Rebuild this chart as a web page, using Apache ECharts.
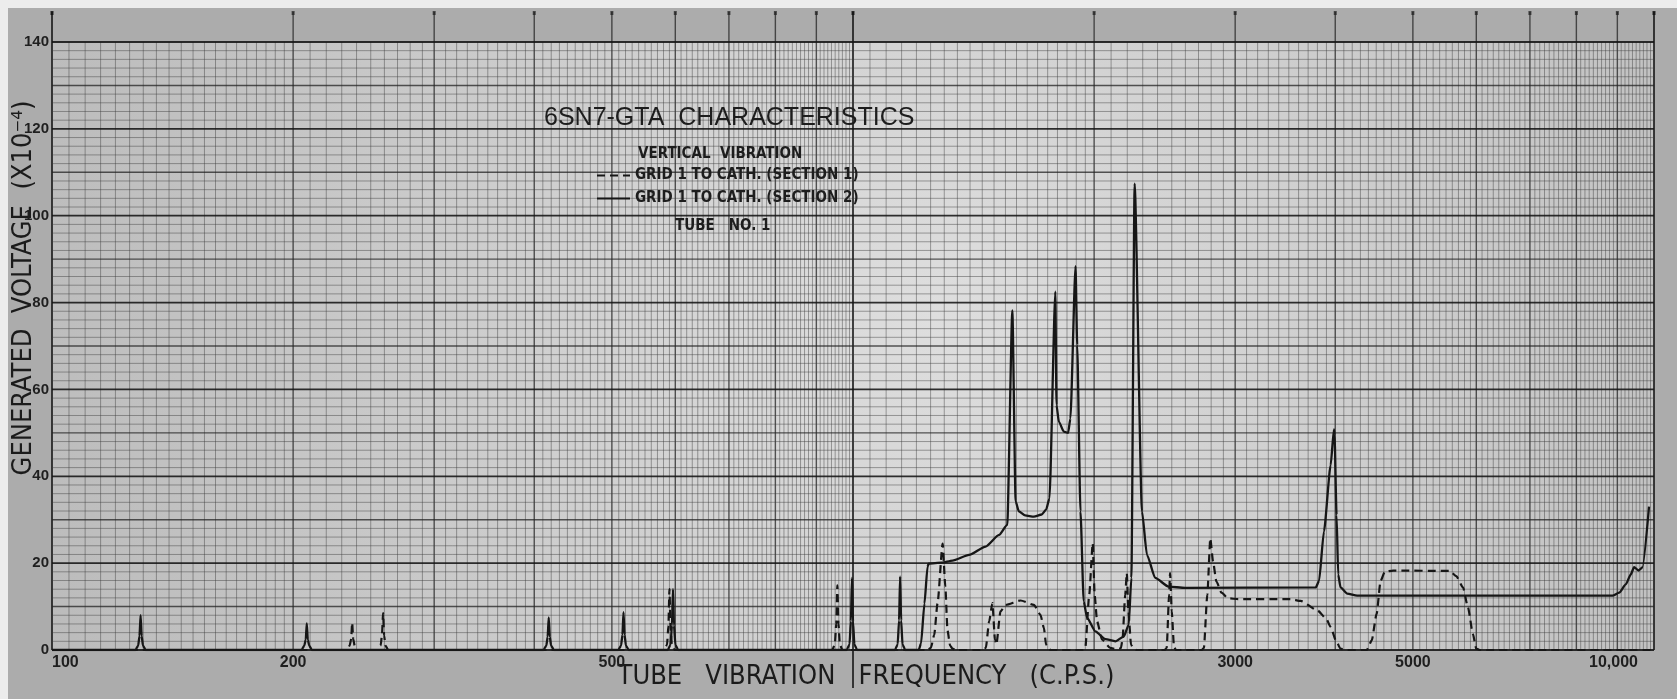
<!DOCTYPE html>
<html>
<head>
<meta charset="utf-8">
<script src="https://cdn.jsdelivr.net/npm/echarts@6/dist/echarts.min.js"></script>
<style>
  html, body { margin: 0; padding: 0; background: #ffffff; }
  #chart { width: 1677px; height: 699px; }
</style>
</head>
<body>
<div id="chart"></div>
<script>
// Grid 1 to cathode, section 1 (dashed curve): frequency (c.p.s.) and generated voltage (x10^-4)
const sec1Freq = [
  100,
  233.4, 235.3, 236.3, 237, 237.7, 238.7, 240.6,
  255.1, 257.2, 258.2, 259, 259.8, 260.8, 262.9,
  581, 585.9, 588.2, 590, 591.8, 594.1, 599,
  942, 949, 953, 956, 959, 963, 970,
  1240, 1251, 1263, 1275, 1294, 1304, 1312, 1322, 1331, 1345,
  1455, 1465, 1479, 1493, 1504, 1510, 1528, 1551, 1619, 1682, 1714, 1731, 1742, 1755, 1765,
  1940, 1950, 1972, 1992, 2003, 2017, 2046, 2095, 2130,
  2160, 2170, 2187, 2197, 2207, 2224, 2240, 2260,
  2450, 2464, 2481, 2488, 2500, 2516, 2530,
  2725, 2742, 2769, 2793, 2815, 2842, 2884, 2940, 3026, 3519, 3621, 3802, 3898, 3947, 4008, 4061, 4140,
  4379, 4442, 4505, 4557, 4612, 4723, 5557, 5664, 5775, 5858, 5942, 5999, 6060, 9900
];
const sec1Volt = [
  0,
  0, 1, 2.5, 6.3, 2.5, 1, 0,
  0, 1, 3.4, 8.5, 3.4, 1, 0,
  0, 1.2, 5.6, 14, 5.6, 1.2, 0,
  0, 1.2, 6, 14.9, 6, 1.2, 0,
  0, 0.5, 3.5, 10.7, 24.5, 14.6, 4.6, 1, 0.3, 0,
  0, 0.5, 6.6, 10.8, 2.4, 1.3, 8.9, 10.4, 11.4, 10.4, 8.1, 5.1, 1.2, 0.3, 0,
  0, 0.5, 12.7, 24.6, 12.7, 6.6, 2.4, 0.5, 0.2,
  0.4, 2.4, 12.7, 17.7, 8.9, 1.2, 0.3, 0,
  0, 0.5, 12.7, 17.7, 8.9, 0.8, 0,
  0, 0.5, 12.7, 25.7, 20.4, 15.8, 13.2, 11.9, 11.7, 11.7, 11.3, 9.1, 7.2, 5.3, 2.2, 0.3, 0,
  0, 2.2, 8.3, 15.9, 18.0, 18.3, 18.2, 17.0, 14.4, 9.8, 3.7, 0.3, 0, 0
];

// Grid 1 to cathode, section 2 (solid curve)
const sec2Freq = [
  100,
  127.1, 128.1, 128.6, 129, 129.4, 129.9, 130.9,
  204.9, 206.5, 207.4, 208, 208.6, 209.5, 211.1,
  410.7, 414.1, 415.7, 417, 418.3, 419.9, 423.3,
  509.2, 513.4, 515.4, 517, 518.6, 520.6, 524.8,
  587, 591.8, 594.2, 596, 597.8, 600.2, 605,
  982, 990, 994, 997, 1000, 1004, 1012,
  1128, 1137, 1141.6, 1145, 1148.4, 1153, 1162,
  1208, 1216, 1228, 1239, 1243, 1290, 1331, 1396, 1464, 1522, 1558,
  1581, 1596, 1611, 1640, 1682, 1720, 1742, 1759,
  1789, 1795, 1807, 1833, 1856, 1868,
  1896, 1905, 1923, 1941, 1960, 2007, 2066, 2126, 2178, 2209, 2226,
  2247, 2295, 2328, 2384, 2477, 2598, 3782,
  3818, 3872, 3947, 3985, 3992, 4015, 4034, 4061, 4140, 4260,
  8876, 9048, 9221, 9354, 9444, 9563, 9672, 9858
];
const sec2Volt = [
  0,
  0, 1, 3.2, 8, 3.2, 1, 0,
  0, 1, 2.4, 6.1, 2.4, 1, 0,
  0, 1, 3, 7.5, 3, 1, 0,
  0, 1, 3.5, 8.7, 3.5, 1, 0,
  0, 1.2, 5.6, 14, 5.6, 1.2, 0,
  0, 1.3, 6.6, 16.6, 6.6, 1.3, 0,
  0, 1.3, 6.8, 16.9, 6.8, 1.3, 0,
  0, 1.5, 10.7, 19.2, 19.9, 20.1, 20.6, 21.9, 23.8, 26.5, 28.8,
  78.2, 34.2, 31.9, 31, 30.7, 31.2, 32.3, 34.9,
  82.5, 56.4, 52.6, 50.3, 50.0, 53.3,
  88.4, 70.2, 31.9, 11.2, 7.4, 4.3, 2.5, 2.0, 3.1, 5.8, 16.6,
  107.4, 31.9, 21.9, 16.6, 14.6, 14.3, 14.4,
  15.9, 27.3, 42.5, 50.8, 49.4, 31.1, 17.4, 14.4, 13.0, 12.5,
  12.5, 13.2, 15.1, 17.4, 19.1, 18.3, 19.0, 33
];

// Axis tick labels
const freqTickLabels = [100, 200, 500, 3000, 5000, 10000];
const voltTickLabels = [0, 20, 40, 60, 80, 100, 120, 140];

const SERIES_1 = 'GRID 1 TO CATH. (SECTION 1)';
const SERIES_2 = 'GRID 1 TO CATH. (SECTION 2)';

const sec1 = sec1Freq.map((f, i) => [f, sec1Volt[i]]);
const sec2 = sec2Freq.map((f, i) => [f, sec2Volt[i]]);

// Two-cycle semi-log graph paper: rulings per cycle
const vRulings = [];
[100, 1000].forEach(dec => {
  for (let k = 0; k < 20; k++) {
    const m = 1 + k * 0.05;
    vRulings.push([+(m * dec).toFixed(3), 0, k === 0 ? 2 : 0]);
  }
  for (let k = 0; k < 80; k++) {
    const m = 2 + k * 0.1;
    const isInt = k % 10 === 0;
    vRulings.push([+(m * dec).toFixed(3), 0, isInt ? 1 : 0]);
  }
});
vRulings.push([10000, 0, 2]);

const hRulings = [];
for (let v = 0; v <= 140; v += 2) {
  hRulings.push([100, v, v % 20 === 0 ? 2 : (v % 10 === 0 ? 1 : 0)]);
}

const INK = '#161616';
const RULE = [
  { c: 'rgba(60,60,60,0.45)', w: 1 },
  { c: 'rgba(35,35,35,0.75)', w: 1.4 },
  { c: 'rgba(20,20,20,0.88)', w: 1.8 }
];
const NARROW = '"Liberation Sans Narrow", "DejaVu Sans Condensed", "Liberation Sans", sans-serif';
const SANS = '"Liberation Sans", "DejaVu Sans", sans-serif';

const chart = echarts.init(document.getElementById('chart'), null, { renderer: 'canvas' });

chart.setOption({
  animation: false,
  backgroundColor: '#acacac',
  grid: {
    left: 52, right: 23, top: 42, bottom: 49,
    show: true,
    borderWidth: 0,
    backgroundColor: {
      type: 'radial', x: 0.55, y: 0.45, r: 1.6,
      colorStops: [
        { offset: 0, color: '#dedede' },
        { offset: 1, color: '#bababa' }
      ]
    }
  },
  title: [
    {
      text: '6SN7-GTA  CHARACTERISTICS',
      left: 544, top: 106, padding: 0,
      textStyle: { fontFamily: SANS, fontWeight: 'normal', fontSize: 25, color: '#1d1d1d' }
    },
    {
      text: 'VERTICAL  VIBRATION',
      left: 638, top: 147, padding: 0,
      textStyle: { fontFamily: NARROW, fontWeight: 'bold', fontSize: 15, color: '#1d1d1d' }
    },
    {
      text: 'TUBE   NO. 1',
      left: 675, top: 219, padding: 0,
      textStyle: { fontFamily: NARROW, fontWeight: 'bold', fontSize: 15, color: '#1d1d1d' }
    }
  ],
  legend: {
    orient: 'vertical',
    left: 596, top: 168,
    padding: 0,
    itemWidth: 33, itemHeight: 14, itemGap: 8,
    selectedMode: false,
    itemStyle: { opacity: 0 },
    data: [SERIES_1, SERIES_2],
    textStyle: { fontFamily: NARROW, fontWeight: 'bold', fontSize: 15, color: '#1d1d1d' }
  },
  xAxis: {
    type: 'log', logBase: 10, min: 100, max: 10000,
    axisLine: { show: false }, axisTick: { show: false }, splitLine: { show: false },
    axisLabel: {
      customValues: freqTickLabels,
      alignMinLabel: 'left', alignMaxLabel: 'right',
      margin: 5,
      fontFamily: SANS, fontWeight: 'bold', fontSize: 16, color: '#1f1f1f',
      formatter: v => v === 10000 ? '{e|10,000}' : String(v),
      rich: { e: { fontFamily: SANS, fontWeight: 'bold', fontSize: 16, color: '#1f1f1f', padding: [0, 16, 0, 0] } }
    }
  },
  yAxis: {
    type: 'value', min: 0, max: 140, interval: 20,
    axisLine: { show: false }, axisTick: { show: false }, splitLine: { show: false },
    axisLabel: {
      margin: 3,
      fontFamily: SANS, fontWeight: 'bold', fontSize: 15, color: '#1f1f1f',
      formatter: v => voltTickLabels.includes(v) ? String(v) : ''
    }
  },
  graphic: [
    { type: 'rect', left: 0, top: 0, shape: { width: 1677, height: 8 }, style: { fill: '#ececec' }, z: -10 },
    { type: 'rect', left: 0, top: 0, shape: { width: 8, height: 699 }, style: { fill: '#ececec' }, z: -10 },
    {
      type: 'text', x: 866, y: 677,
      style: {
        text: 'TUBE   VIBRATION   FREQUENCY   (C.P.S.)',
        font: '27px ' + NARROW, fill: '#1b1b1b',
        textAlign: 'center', textVerticalAlign: 'middle', align: 'center', verticalAlign: 'middle'
      }
    },
    {
      type: 'text', x: 24, y: 288, rotation: Math.PI / 2,
      style: {
        text: 'GENERATED  VOLTAGE  (X10⁻⁴)',
        font: '27px ' + NARROW, fill: '#1b1b1b',
        textAlign: 'center', textVerticalAlign: 'middle', align: 'center', verticalAlign: 'middle'
      }
    }
  ],
  series: [
    {
      // vertical rulings of the graph paper
      type: 'custom', silent: true, clip: false, z: 1,
      encode: { x: 0, y: 1 },
      data: vRulings,
      renderItem: (params, api) => {
        const f = api.value(0), w = api.value(2);
        const bot = api.coord([f, 0]);
        const top = api.coord([f, 140]);
        const s = RULE[w];
        const ext = w > 0 ? 30 : 0;
        const below = f === 1000 ? 38 : 0;
        const children = [{
          type: 'line',
          shape: { x1: bot[0], y1: top[1] - ext, x2: bot[0], y2: bot[1] + below },
          style: { stroke: s.c, lineWidth: s.w }
        }];
        if (w > 0) {
          children.push({
            type: 'rect',
            shape: { x: bot[0] - 1.5, y: top[1] - ext - 1, width: 3, height: 4 },
            style: { fill: s.c }
          });
        }
        return { type: 'group', children };
      }
    },
    {
      // horizontal rulings of the graph paper
      type: 'custom', silent: true, clip: false, z: 1,
      encode: { x: 0, y: 1 },
      data: hRulings,
      renderItem: (params, api) => {
        const v = api.value(1), w = api.value(2);
        const a = api.coord([100, v]);
        const b = api.coord([10000, v]);
        const s = RULE[w];
        return {
          type: 'line',
          shape: { x1: a[0], y1: a[1], x2: b[0], y2: b[1] },
          style: { stroke: s.c, lineWidth: s.w }
        };
      }
    },
    {
      name: SERIES_1,
      type: 'line', data: sec1, symbol: 'none',
      smooth: 0.2, smoothMonotone: 'x',
      lineStyle: { color: INK, width: 2.2, type: [8, 5] },
      itemStyle: { color: INK },
      z: 5
    },
    {
      name: SERIES_2,
      type: 'line', data: sec2, symbol: 'none',
      smooth: 0.2, smoothMonotone: 'x',
      lineStyle: { color: INK, width: 2.3 },
      itemStyle: { color: INK },
      z: 6
    }
  ]
});
</script>
</body>
</html>
